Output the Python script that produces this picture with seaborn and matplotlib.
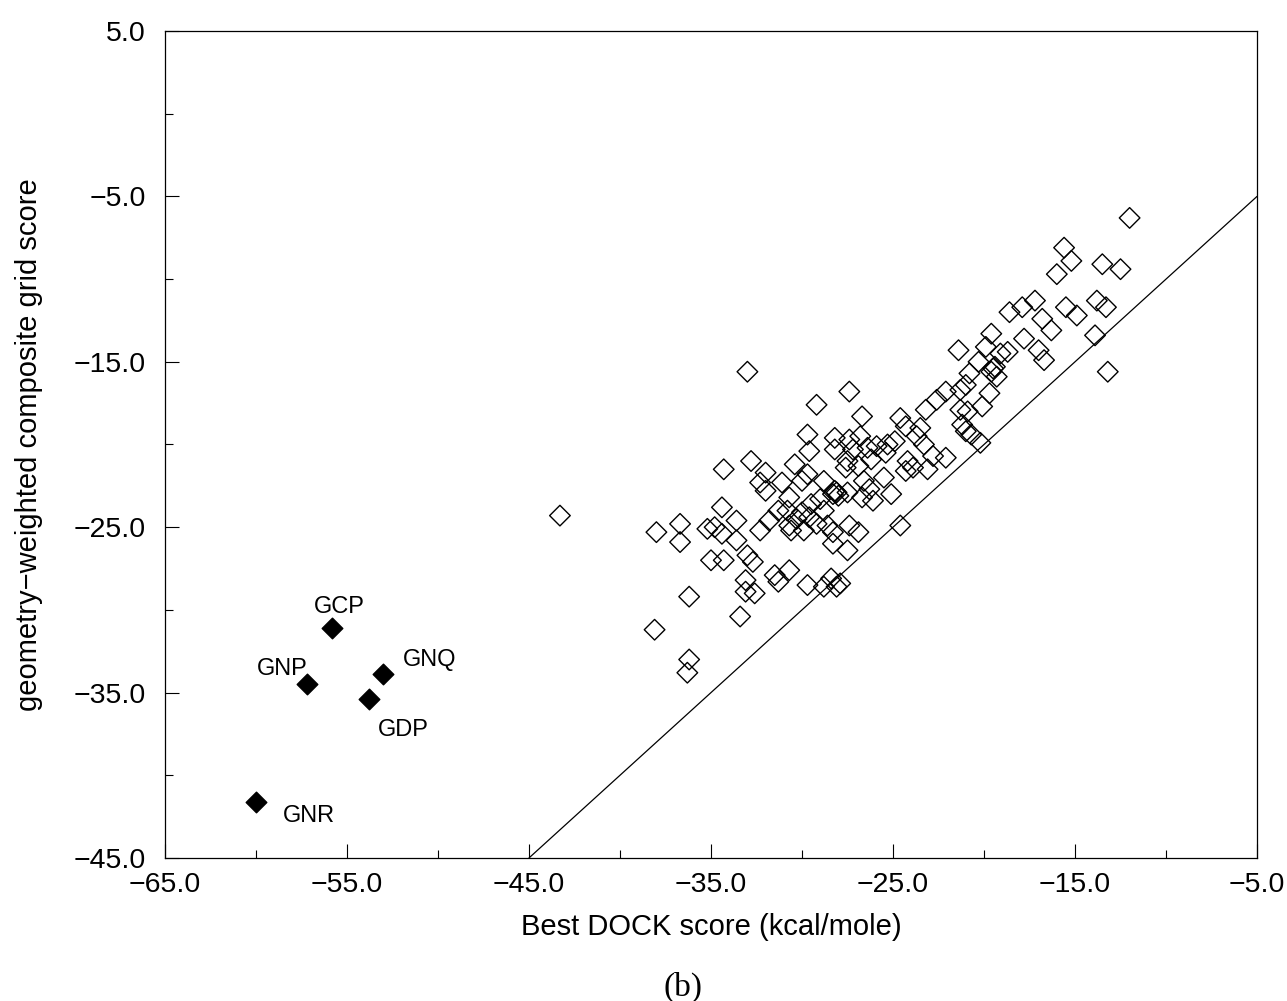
import matplotlib
matplotlib.use("Agg")
import matplotlib.pyplot as plt
import matplotlib.ticker as mticker
import seaborn as sns
import pandas as pd

# Open diamonds: best DOCK score vs geometry-weighted composite grid score
dock_score = [
    -33.0, -43.3, -34.3, -32.8, -32.0, -32.3, -32.0, -31.1, -34.4, -33.6,
    -32.3, -31.8, -31.3, -38.0, -36.7, -36.7, -35.2, -34.8, -34.4, -33.6,
    -35.0, -34.3, -33.0, -32.7, -31.5, -31.3, -33.1, -33.1, -32.6, -36.2,
    -33.4, -38.1, -36.2, -36.3,
    -12.0, -15.6, -15.2, -16.0, -13.5, -12.5, -17.2, -17.9, -18.6, -15.5,
    -14.9, -13.8, -13.3, -16.8, -16.3, -19.6, -17.8, -13.9, -13.2, -21.4,
    -19.9, -18.7, -17.0, -16.7, -20.3, -19.5, -19.4, -19.6, -19.3, -20.8,
    -19.1,
    -27.4, -29.2, -26.7, -22.1, -21.3, -21.0, -22.6, -23.2, -19.7, -20.1,
    -20.9, -21.3, -24.6, -24.3, -23.5, -21.2, -21.0, -20.7, -20.2, -23.7,
    -23.3, -22.1, -22.8, -29.7, -28.2, -27.4, -26.8, -28.2, -29.6, -27.2,
    -26.4, -25.9, -25.3, -24.9, -25.4, -26.2, -27.5, -26.9, -27.6, -24.2,
    -23.9, -24.3, -23.1, -30.4, -29.7, -30.0, -28.8, -26.6, -25.5, -28.2,
    -28.3, -27.5, -26.3, -25.1, -26.7, -26.1, -29.0, -29.5, -28.8, -30.7,
    -30.8, -30.0, -29.6, -30.3, -29.2, -28.6, -30.7, -29.9, -30.6, -27.4,
    -26.9, -28.3, -24.6, -28.3, -27.5, -30.7, -29.7, -28.4, -28.8, -28.1,
    -27.9, -28.1, -28.0,
]
grid_score = [
    -15.6, -24.3, -21.5, -21.0, -21.7, -22.3, -22.8, -22.3, -23.8, -24.6,
    -25.2, -24.6, -24.0, -25.3, -24.8, -25.9, -25.1, -25.0, -25.4, -25.8,
    -27.0, -27.0, -26.7, -27.1, -27.9, -28.3, -28.2, -28.9, -29.0, -29.2,
    -30.4, -31.2, -33.0, -33.8,
    -6.3, -8.1, -8.9, -9.7, -9.1, -9.4, -11.3, -11.7, -12.0, -11.7,
    -12.2, -11.3, -11.7, -12.4, -13.1, -13.3, -13.6, -13.4, -15.6, -14.3,
    -14.1, -14.4, -14.3, -14.9, -15.0, -15.4, -15.3, -15.6, -15.9, -15.7,
    -14.5,
    -16.8, -17.6, -18.3, -16.8, -16.7, -16.4, -17.3, -17.9, -16.9, -17.7,
    -18.0, -17.9, -18.4, -18.9, -19.0, -18.8, -19.2, -19.4, -19.9, -19.5,
    -20.0, -20.8, -20.7, -19.4, -19.6, -19.7, -19.5, -20.3, -20.4, -20.3,
    -20.2, -20.1, -20.0, -19.8, -20.5, -20.9, -21.0, -21.3, -21.4, -21.0,
    -21.4, -21.6, -21.5, -21.2, -21.8, -22.2, -22.2, -22.2, -22.0, -22.8,
    -23.0, -22.9, -22.7, -23.0, -23.2, -23.4, -23.3, -23.6, -24.0, -23.2,
    -24.0, -24.1, -24.4, -24.5, -24.8, -24.9, -24.9, -25.2, -25.2, -24.9,
    -25.3, -25.3, -24.9, -26.0, -26.4, -27.6, -28.5, -28.1, -28.6, -28.6,
    -28.4, -22.9, -23.1,
]

# Filled diamonds: labelled ligands
ligand_names = ["GCP", "GNP", "GNQ", "GDP", "GNR"]
ligand_dock = [-55.8, -57.2, -53.0, -53.8, -60.0]
ligand_grid = [-31.1, -34.5, -33.9, -35.4, -41.6]

diag_x = [-45.0, -5.0]
x_ticks = [-65, -55, -45, -35, -25, -15, -5]
y_ticks = [5, -5, -15, -25, -35, -45]

df = pd.DataFrame({"dock": dock_score, "grid": grid_score})
lig = pd.DataFrame({"name": ligand_names, "dock": ligand_dock, "grid": ligand_grid})

sns.set_style("ticks")
plt.rcParams["font.family"] = ["Liberation Sans", "DejaVu Sans"]
plt.rcParams["text.color"] = "black"
plt.rcParams["axes.labelcolor"] = "black"
plt.rcParams["xtick.color"] = "black"
plt.rcParams["ytick.color"] = "black"
plt.rcParams["axes.edgecolor"] = "black"

fig = plt.figure(figsize=(12.87, 10.01), dpi=100)
ax = fig.add_axes([0.1282, 0.1429, 0.8485, 0.8261])

sns.lineplot(x=diag_x, y=diag_x, ax=ax, color="black", linewidth=0.9)
sns.scatterplot(data=df, x="dock", y="grid", ax=ax, marker="D", s=110,
                facecolor="none", edgecolor="black", linewidth=1.0)
sns.scatterplot(data=lig, x="dock", y="grid", ax=ax, marker="D", s=110,
                color="black", edgecolor="black", linewidth=1.0)

label_offsets = {"GCP": (5, 15), "GNP": (-18, 11), "GNQ": (33, 10),
                 "GDP": (25, -22), "GNR": (38, -10)}
for _, r in lig.iterrows():
    ax.annotate(r["name"], (r["dock"], r["grid"]), xytext=label_offsets[r["name"]],
                textcoords="offset points", ha="center", va="center", fontsize=17)

ax.set_xlim(-65, -5)
ax.set_ylim(-45, 5)
ax.set_xticks(x_ticks)
ax.set_yticks(y_ticks)
ax.xaxis.set_minor_locator(mticker.MultipleLocator(5))
ax.yaxis.set_minor_locator(mticker.MultipleLocator(5))
fmt = mticker.FuncFormatter(lambda v, p: f"{v:.1f}".replace("-", "\u2212"))
ax.xaxis.set_major_formatter(fmt)
ax.yaxis.set_major_formatter(fmt)
ax.tick_params(which="major", direction="in", length=10, width=0.8, labelsize=20.5)
ax.tick_params(which="minor", direction="in", length=6, width=0.8)
ax.tick_params(axis="x", pad=10)
ax.tick_params(axis="y", pad=14)
for sp in ax.spines.values():
    sp.set_linewidth(0.9)

ax.set_xlabel("Best DOCK score (kcal/mole)", fontsize=21)
ax.set_ylabel("geometry\u2212weighted composite grid score", fontsize=21)
ax.xaxis.set_label_coords(0.5, -0.066)
ax.yaxis.set_label_coords(-0.112, 0.5)

fig.text(0.531, 0.014, "(b)", ha="center", va="center", fontsize=24,
         family=["Liberation Serif", "DejaVu Serif"])

fig.savefig("out.png", dpi=100)
